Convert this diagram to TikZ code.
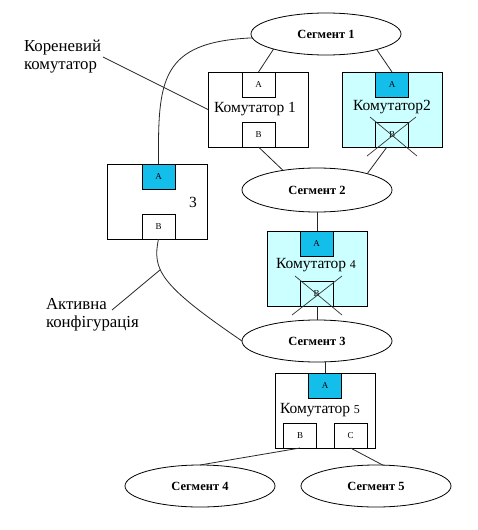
\documentclass[tikz,border=0pt]{standalone}
\usepackage{fontspec}
\setmainfont{Liberation Serif}
\usetikzlibrary{shapes.geometric}
\definecolor{portblue}{RGB}{20,190,235}
\definecolor{lightcy}{RGB}{204,255,255}
\begin{document}
\begin{tikzpicture}[x=1pt,y=-1pt,
  every node/.style={inner sep=0pt,outer sep=0pt},
  swbox/.style={draw,line width=0.8pt,minimum width=100pt,minimum height=75pt},
  swoff/.style={swbox,fill=lightcy},
  port/.style={draw,line width=0.8pt,minimum width=33pt,minimum height=25pt,font=\fontsize{9}{10}\selectfont},
  porton/.style={port,fill=portblue},
  seg/.style={draw,ellipse,line width=0.8pt,minimum width=150pt,minimum height=42pt,font=\fontsize{12.5}{14}\selectfont\bfseries},
  lbl/.style={font=\fontsize{15.5}{18}\selectfont},
  sidelbl/.style={font=\fontsize{16.8}{18}\selectfont,align=left,anchor=north west},
  conn/.style={line width=0.8pt,draw=black!85},
  cross/.style={line width=0.7pt,draw=black!80}]
\useasboundingbox (0,0) rectangle (478,530);

% segments
\node[seg] (seg1) at (326,34) {Сегмент 1};
\node[seg,minimum height=44pt] (seg2) at (317,190) {Сегмент 2};
\node[seg] (seg3) at (317,341) {Сегмент 3};
\node[seg] (seg4) at (200,486) {Сегмент 4};
\node[seg] (seg5) at (376,486) {Сегмент 5};

% switch 1
\node[swbox] (s1box) at (258,109.5) {};
\node[port] (s1a) at (258.5,84.5) {A};
\node[port] (s1b) at (258.5,134.5) {B};
\node[lbl] (s1lbl) at (255,109) {Комутатор 1};

% switch 2
\node[swoff] (s2box) at (392,109.5) {};
\node[porton] (s2a) at (392,84.5) {A};
\node[port,fill=lightcy] (s2b) at (392,134.5) {B};
\node[lbl] (s2lbl) at (392,107) {Комутатор2};
\draw[cross] ([shift={(-22,-17.5)}]s2b.center) -- ([shift={(25,21.5)}]s2b.center);
\draw[cross] ([shift={(24,-17.5)}]s2b.center) -- ([shift={(-25,21.5)}]s2b.center);

% switch 3
\node[swbox] (s3box) at (157.5,201.5) {};
\node[porton] (s3a) at (158.5,176.5) {A};
\node[port] (s3b) at (158.5,226.5) {B};
\node[lbl] (s3lbl) at (193,202) {3};

% switch 4
\node[swoff] (s4box) at (317,268.5) {};
\node[porton] (s4a) at (316.5,243.5) {A};
\node[port,fill=lightcy] (s4b) at (316.5,293.5) {B};
\node[lbl] (s4lbl) at (316,265) {Комутатор {\fontsize{12}{14}\selectfont 4}};
\draw[cross] ([shift={(-24.5,21.5)}]s4b.center) -- ([shift={(25.5,-17.5)}]s4b.center);
\draw[cross] ([shift={(-21.5,-17.5)}]s4b.center) -- ([shift={(25.5,21.5)}]s4b.center);

% switch 5
\node[swbox] (s5box) at (325.5,410.5) {};
\node[porton] (s5a) at (325,385.5) {A};
\node[port] (s5b) at (300,435.5) {B};
\node[port] (s5c) at (350.5,435.5) {C};
\node[lbl] (s5lbl) at (320,410) {Комутатор {\fontsize{12}{14}\selectfont 5}};

% connectors
\draw[conn] (seg1.196) -- (s1a.north);
\draw[conn] (seg1.343) -- (s2a.north);
\draw[conn] (s1b.south) -- (seg2.150);
\draw[conn] (s2b.248) -- (seg2.18);
\draw[conn] (seg2.south) -- (s4box.north);
\draw[conn] (s4box.south) -- (seg3.north);
\draw[conn] (s5a.north) -- (s5a.north |- seg3.south);
\draw[conn] (s5b.south) -- (seg4.north);
\draw[conn] (s5c.south) -- (seg5.72);
\draw[conn] (seg1.183) .. controls (160,42) and (158,80) .. (s3a.north);
\draw[conn] (s3b.south) .. controls (152,270) and (160,285) .. (seg3.west) coordinate[pos=0.37] (act);

% labels
\node[sidelbl] (rootlbl) at (24,39.5) {Кореневий\\комутатор};
\coordinate (rootend) at (103,57);
\draw[conn] (rootend) -- (s1box.west);
\node[sidelbl] (actlbl) at (46,298.5) {Активна\\конфігурація};
\coordinate (actend) at (112,310);
\draw[conn] (actend) -- (act);
\end{tikzpicture}
\end{document}
